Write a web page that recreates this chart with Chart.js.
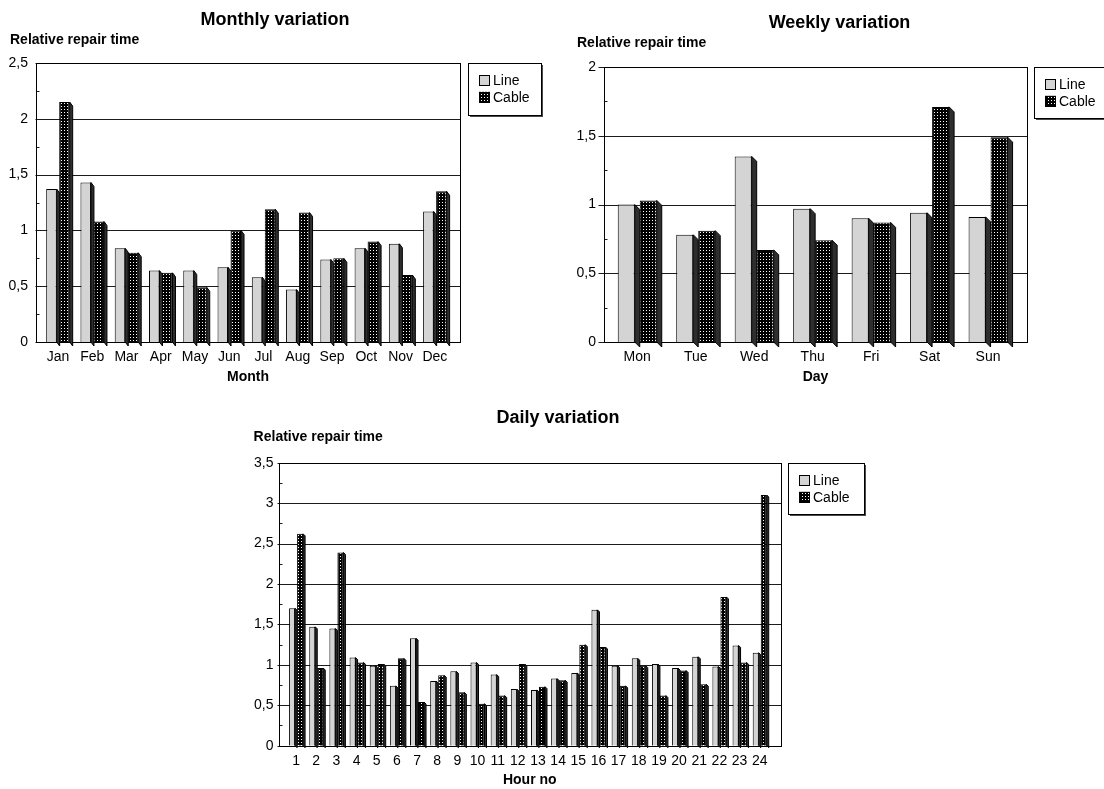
<!DOCTYPE html>
<html>
<head>
<meta charset="utf-8">
<title>Relative repair time – monthly, weekly and daily variation</title>
<script src="https://cdn.jsdelivr.net/npm/chart.js@4.4.1/dist/chart.umd.min.js"></script>
<style>
  html, body { margin: 0; padding: 0; background: #fff; }
  #page { position: relative; width: 1104px; height: 789px; overflow: hidden; background: #fff; }
  #page canvas { position: absolute; left: 0; top: 0; }
</style>
</head>
<body>
<div id="page">
  <canvas id="monthly" width="1104" height="789"></canvas>
  <canvas id="weekly" width="1104" height="789"></canvas>
  <canvas id="daily" width="1104" height="789"></canvas>
</div>
<script>
// ---- data ---------------------------------------------------------------
const seriesNames = ['Line', 'Cable'];

const monthLabels = ['Jan', 'Feb', 'Mar', 'Apr', 'May', 'Jun', 'Jul', 'Aug', 'Sep', 'Oct', 'Nov', 'Dec'];
const monthLine   = [1.37, 1.43, 0.84, 0.64, 0.64, 0.67, 0.58, 0.47, 0.74, 0.84, 0.88, 1.17];
const monthCable  = [2.15, 1.08, 0.80, 0.62, 0.49, 1.00, 1.19, 1.16, 0.75, 0.90, 0.60, 1.35];
const monthTicks  = ['0', '0,5', '1', '1,5', '2', '2,5'];

const dayLabels = ['Mon', 'Tue', 'Wed', 'Thu', 'Fri', 'Sat', 'Sun'];
const dayLine   = [1.00, 0.78, 1.35, 0.97, 0.90, 0.94, 0.91];
const dayCable  = [1.03, 0.81, 0.67, 0.74, 0.87, 1.71, 1.49];
const dayTicks  = ['0', '0,5', '1', '1,5', '2'];

const hourLabels = ['1', '2', '3', '4', '5', '6', '7', '8', '9', '10', '11', '12',
                    '13', '14', '15', '16', '17', '18', '19', '20', '21', '22', '23', '24'];
const hourLine   = [1.70, 1.47, 1.45, 1.09, 0.99, 0.74, 1.33, 0.80, 0.92, 1.03, 0.88, 0.70,
                    0.69, 0.83, 0.90, 1.68, 0.99, 1.08, 1.01, 0.96, 1.10, 0.98, 1.24, 1.15];
const hourCable  = [2.62, 0.96, 2.39, 1.03, 1.01, 1.08, 0.54, 0.87, 0.66, 0.52, 0.62, 1.01,
                    0.73, 0.81, 1.25, 1.22, 0.74, 0.99, 0.62, 0.93, 0.76, 1.84, 1.03, 3.10];
const hourTicks  = ['0', '0,5', '1', '1,5', '2', '2,5', '3', '3,5'];

// ---- styling ------------------------------------------------------------
const FONT = '"Liberation Sans", Arial, Helvetica, sans-serif';
const PAGE_W = 1104, PAGE_H = 789;
const LINE_FILL = '#d4d4d4';
const SIDE_FILL = '#2e2e2e';

// black fill sprinkled with white dots for the cable series
function dotPattern() {
  const c = document.createElement('canvas');
  c.width = 3; c.height = 3;
  const g = c.getContext('2d');
  g.fillStyle = '#000';
  g.fillRect(0, 0, 3, 3);
  g.fillStyle = '#fff';
  g.fillRect(1, 1, 1, 1);
  return g.createPattern(c, 'repeat');
}
const CABLE_FILL = dotPattern();

const crisp = v => Math.round(v) + 0.5;

// Frame, grid, minor ticks, 3-D bar sides, legend box and the headings
function decorations(L) {
  return {
    id: 'decorations',
    beforeDatasetsDraw(chart) {
      const ctx = chart.ctx, ys = chart.scales.y, area = chart.chartArea;
      const fl = crisp(L.frame.left), fr = crisp(L.frame.right);
      const top = crisp(area.top), bottom = crisp(area.bottom);
      ctx.save();
      ctx.lineWidth = 1;
      ctx.strokeStyle = '#1c1c1c';
      const ticks = ys.ticks;
      ticks.forEach((t, i) => {
        const py = crisp(ys.getPixelForValue(t.value));
        ctx.beginPath();
        ctx.moveTo(fl - L.majorTick, py);
        ctx.lineTo(fr, py);
        ctx.stroke();
        if (i < ticks.length - 1) {
          const mid = crisp(ys.getPixelForValue((t.value + ticks[i + 1].value) / 2));
          ctx.beginPath();
          ctx.moveTo(fl, mid);
          ctx.lineTo(fl + 3, mid);
          ctx.stroke();
        }
      });
      ctx.strokeStyle = '#000';
      ctx.strokeRect(fl, top, fr - fl, bottom - top);
      ctx.restore();
    },
    afterDatasetsDraw(chart) {
      const ctx = chart.ctx;
      const { dx, dy } = L.depth;
      ctx.save();
      ctx.lineWidth = 1;
      ctx.strokeStyle = '#000';
      ctx.fillStyle = SIDE_FILL;
      chart.data.datasets.forEach((ds, i) => {
        chart.getDatasetMeta(i).data.forEach(bar => {
          const p = bar.getProps(['x', 'y', 'base', 'width'], true);
          const r = p.x + p.width / 2;
          ctx.beginPath();
          ctx.moveTo(r, p.y);
          ctx.lineTo(r + dx, p.y + dy);
          ctx.lineTo(r + dx, p.base + dy);
          ctx.lineTo(r, p.base);
          ctx.closePath();
          ctx.fill();
          ctx.stroke();
        });
      });
      ctx.restore();
    },
    afterDraw(chart) {
      const ctx = chart.ctx;
      ctx.save();
      ctx.fillStyle = '#000';
      ctx.textBaseline = 'middle';

      // headings
      ctx.font = 'bold 18px ' + FONT;
      ctx.textAlign = 'center';
      ctx.fillText(L.title.text, L.title.x, L.title.y);
      ctx.font = 'bold 14px ' + FONT;
      ctx.textAlign = 'left';
      ctx.fillText('Relative repair time', L.yTitle.x, L.yTitle.y);
      ctx.textAlign = 'center';
      ctx.fillText(L.xTitle.text, (L.frame.left + L.frame.right) / 2, L.xTitle.y);

      // legend box with drop shadow
      const g = L.legend;
      ctx.fillStyle = '#4a4a4a';
      ctx.fillRect(g.x + 2, g.y + 2, g.w, g.h);
      ctx.fillStyle = '#fff';
      ctx.fillRect(g.x, g.y, g.w, g.h);
      ctx.lineWidth = 1;
      ctx.strokeStyle = '#000';
      ctx.strokeRect(crisp(g.x), crisp(g.y), g.w, g.h);
      ctx.font = '14px ' + FONT;
      ctx.textAlign = 'left';
      chart.data.datasets.forEach((ds, i) => {
        const sx = g.x + 11, sy = g.y + 12 + i * 16.8;
        ctx.fillStyle = ds.backgroundColor;
        ctx.fillRect(sx, sy, 11, 11);
        ctx.strokeRect(crisp(sx), crisp(sy), 10, 10);
        ctx.fillStyle = '#000';
        ctx.fillText(ds.label, g.x + 25, sy + 6);
      });
      ctx.restore();
    }
  };
}

function buildChart(id, labels, lineVals, cableVals, tickLabels, L) {
  const xAxisH = 30;
  return new Chart(document.getElementById(id), {
    type: 'bar',
    data: {
      labels: labels,
      datasets: [
        { label: seriesNames[0], data: lineVals, backgroundColor: LINE_FILL,
          borderColor: '#000', borderWidth: 1,
          categoryPercentage: L.bars.cat, barPercentage: L.bars.bar },
        { label: seriesNames[1], data: cableVals, backgroundColor: CABLE_FILL,
          borderColor: '#000', borderWidth: 1,
          categoryPercentage: L.bars.cat, barPercentage: L.bars.bar }
      ]
    },
    options: {
      responsive: false,
      animation: false,
      devicePixelRatio: 1,
      layout: {
        padding: {
          left: 0,
          top: L.area.top,
          right: PAGE_W - L.area.right,
          bottom: PAGE_H - L.area.bottom - xAxisH
        }
      },
      plugins: { legend: { display: false }, tooltip: { enabled: false }, title: { display: false } },
      scales: {
        x: {
          type: 'category',
          offset: true,
          grid: { display: false, drawTicks: false },
          border: { display: false },
          ticks: {
            color: '#000', font: { family: FONT, size: L.xFont }, padding: 6.6,
            autoSkip: false, maxRotation: 0, minRotation: 0
          },
          afterFit(s) { s.height = xAxisH; }
        },
        y: {
          min: 0,
          max: (tickLabels.length - 1) * 0.5,
          grid: { display: false, drawTicks: false },
          border: { display: false },
          ticks: {
            stepSize: 0.5,
            color: '#000', font: { family: FONT, size: 14 },
            padding: L.area.left - L.yLabelRight,
            callback: (v, i) => tickLabels[i]
          },
          afterFit(s) { s.width = L.area.left; }
        }
      }
    },
    plugins: [decorations(L)]
  });
}

buildChart('monthly', monthLabels, monthLine, monthCable, monthTicks, {
  area: { left: 40.8, right: 452, top: 63, bottom: 342 },
  frame: { left: 36, right: 460 },
  yLabelRight: 28, majorTick: 1, xFont: 14,
  depth: { dx: 3, dy: 4 },
  bars: { cat: 0.7587, bar: 0.8077 },
  title: { text: 'Monthly variation', x: 275, y: 20 },
  yTitle: { x: 10, y: 40 },
  xTitle: { text: 'Month', y: 377 },
  legend: { x: 468, y: 63, w: 73, h: 52 }
});

buildChart('weekly', dayLabels, dayLine, dayCable, dayTicks, {
  area: { left: 608, right: 1017.3, top: 67, bottom: 342 },
  frame: { left: 604, right: 1027 },
  yLabelRight: 596, majorTick: 6, xFont: 14,
  depth: { dx: 5, dy: 5 },
  bars: { cat: 0.7525, bar: 0.7727 },
  title: { text: 'Weekly variation', x: 839.5, y: 23.3 },
  yTitle: { x: 577, y: 42.7 },
  xTitle: { text: 'Day', y: 377 },
  legend: { x: 1034, y: 67, w: 73, h: 51 }
});

buildChart('daily', hourLabels, hourLine, hourCable, hourTicks, {
  area: { left: 286, right: 769.8, top: 462.7, bottom: 745.7 },
  frame: { left: 279, right: 780.5 },
  yLabelRight: 273.5, majorTick: 2, xFont: 14,
  depth: { dx: 2, dy: 2 },
  bars: { cat: 0.794, bar: 0.75 },
  title: { text: 'Daily variation', x: 558, y: 418.3 },
  yTitle: { x: 253.6, y: 437.3 },
  xTitle: { text: 'Hour no', y: 780 },
  legend: { x: 788, y: 463, w: 76, h: 51 }
});
</script>
</body>
</html>
